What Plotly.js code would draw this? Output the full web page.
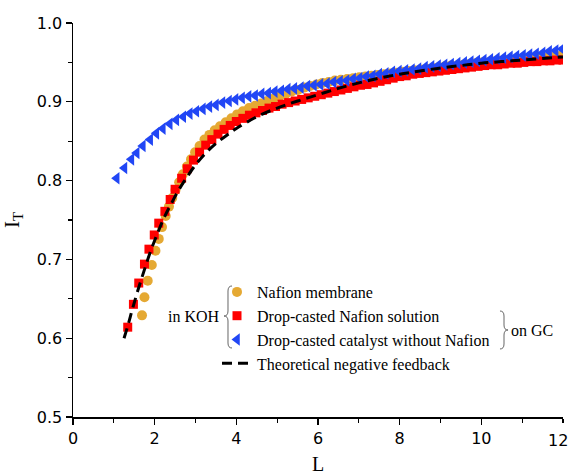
<!DOCTYPE html>
<html><head><meta charset="utf-8">
<script src="https://cdn.plot.ly/plotly-3.0.1.min.js"></script>
<style>body{margin:0;background:#fff}#c{width:571px;height:474px}</style>
</head><body><div id="c"></div>
<script>
// Nafion membrane (orange circles)
const nafionX = [1.69,1.75,1.83,1.93,2.02,2.10,2.18,2.27,2.35,2.43,2.51,2.60,2.69,2.79,2.89,2.99,3.10,3.22,3.34,3.47,3.60,3.74,3.88,4.02,4.16,4.31,4.46,4.61,4.76,4.91,5.06,5.21,5.36,5.51,5.66,5.81,5.96,6.11,6.26,6.41,6.56,6.71,6.86,7.01,7.16,7.31,7.46,7.61,7.76,7.91,8.06,8.21,8.36,8.51,8.66,8.81,8.96,9.11,9.26,9.41,9.56,9.71,9.86,10.01,10.16,10.31,10.46,10.61,10.76,10.91,11.06,11.21,11.36,11.51,11.66,11.81,11.96];
const nafionY = [0.629,0.652,0.673,0.693,0.711,0.726,0.741,0.755,0.767,0.778,0.788,0.798,0.808,0.818,0.827,0.836,0.844,0.852,0.858,0.864,0.869,0.874,0.879,0.884,0.888,0.892,0.895,0.898,0.901,0.904,0.907,0.910,0.913,0.915,0.918,0.920,0.922,0.924,0.925,0.927,0.928,0.929,0.930,0.931,0.932,0.933,0.934,0.935,0.936,0.937,0.938,0.939,0.940,0.941,0.942,0.943,0.944,0.945,0.946,0.946,0.947,0.948,0.949,0.950,0.950,0.951,0.952,0.953,0.953,0.954,0.955,0.955,0.956,0.957,0.957,0.958,0.959];
// Drop-casted Nafion solution (red squares)
const solX = [1.34,1.48,1.61,1.75,1.86,1.99,2.10,2.25,2.38,2.50,2.66,2.80,2.95,3.10,3.25,3.40,3.55,3.70,3.85,4.00,4.16,4.32,4.48,4.64,4.80,4.96,5.12,5.28,5.44,5.60,5.76,5.92,6.08,6.24,6.40,6.56,6.72,6.88,7.04,7.20,7.36,7.52,7.68,7.84,8.00,8.16,8.32,8.48,8.64,8.80,8.96,9.12,9.28,9.44,9.60,9.76,9.92,10.08,10.24,10.40,10.56,10.72,10.88,11.04,11.20,11.36,11.52,11.68,11.84,12.00];
const solY = [0.614,0.643,0.670,0.694,0.713,0.731,0.746,0.761,0.776,0.789,0.803,0.815,0.826,0.836,0.845,0.852,0.859,0.865,0.870,0.875,0.879,0.883,0.886,0.889,0.892,0.894,0.897,0.899,0.901,0.903,0.905,0.907,0.909,0.911,0.913,0.915,0.917,0.919,0.921,0.922,0.924,0.926,0.928,0.930,0.932,0.933,0.935,0.936,0.937,0.938,0.939,0.940,0.941,0.942,0.943,0.944,0.945,0.946,0.947,0.947,0.948,0.949,0.949,0.950,0.951,0.951,0.952,0.952,0.953,0.953];
// Drop-casted catalyst without Nafion (blue triangles)
const catX = [1.07,1.26,1.43,1.56,1.71,1.89,2.04,2.20,2.37,2.53,2.70,2.86,3.02,3.18,3.34,3.50,3.66,3.82,3.98,4.14,4.30,4.46,4.62,4.78,4.94,5.10,5.26,5.42,5.58,5.74,5.90,6.06,6.22,6.38,6.54,6.70,6.86,7.02,7.18,7.34,7.50,7.66,7.82,7.98,8.14,8.30,8.46,8.62,8.78,8.94,9.10,9.26,9.42,9.58,9.74,9.90,10.06,10.22,10.38,10.54,10.70,10.86,11.02,11.18,11.34,11.50,11.66,11.82,11.98];
const catY = [0.803,0.816,0.827,0.835,0.844,0.852,0.860,0.866,0.872,0.877,0.881,0.885,0.888,0.891,0.894,0.896,0.899,0.901,0.903,0.905,0.907,0.908,0.910,0.911,0.913,0.914,0.916,0.917,0.918,0.920,0.921,0.922,0.923,0.925,0.926,0.927,0.929,0.930,0.932,0.933,0.935,0.936,0.938,0.939,0.940,0.941,0.942,0.944,0.945,0.946,0.947,0.948,0.949,0.950,0.951,0.952,0.953,0.954,0.955,0.956,0.957,0.958,0.959,0.960,0.961,0.962,0.964,0.965,0.967];
// Theoretical negative feedback (dashed)
const theoX = [1.25,1.35,1.45,1.55,1.65,1.75,1.87,2.00,2.10,2.25,2.40,2.60,2.80,3.00,3.25,3.50,3.75,4.00,4.50,5.00,5.50,6.00,6.50,7.00,7.50,8.00,8.50,9.00,9.50,10.00,10.50,11.00,11.50,12.00];
const theoY = [0.600,0.617,0.636,0.654,0.671,0.687,0.706,0.724,0.737,0.755,0.770,0.789,0.805,0.820,0.835,0.847,0.857,0.866,0.881,0.892,0.901,0.909,0.917,0.924,0.930,0.935,0.939,0.943,0.946,0.949,0.951,0.953,0.955,0.957];

const names = ['Nafion membrane','Drop-casted Nafion solution','Drop-casted catalyst without Nafion','Theoretical negative feedback'];
const xTickVals = [0,2,4,6,8,10];
const xLastTick = 12;
const xTitle = 'L';

const M = {l:73, r:8, t:23, b:57};
const PW = 571 - M.l - M.r, PH = 474 - M.t - M.b;
const px = v => (v - M.l) / PW;
const py = v => (474 - M.b - v) / PH;
function pathPx(cmds){
  return cmds.map(c => typeof c === 'string' ? c : px(c[0]).toFixed(4)+','+py(c[1]).toFixed(4)).join(' ');
}
const leftBrace = pathPx(['M',[232,286],'Q',[228,286],[228,291],'L',[228,311],'Q',[228,316],[224,316],'Q',[228,316],[228,321],'L',[228,343],'Q',[228,348],[232,348]]);
const rightBrace = pathPx(['M',[500,311],'Q',[504,311],[504,316],'L',[504,325],'Q',[504,330],[508,330],'Q',[504,330],[504,335],'L',[504,344],'Q',[504,349],[500,349]]);

const serif = 'Liberation Serif, Times New Roman, serif';
const sans = 'DejaVu Sans, Arial, sans-serif';

const data = [
  {x:nafionX, y:nafionY, name:names[0], mode:'markers', type:'scatter', marker:{symbol:'circle', size:10, color:'#E5A933'}},
  {x:solX, y:solY, name:names[1], mode:'markers', type:'scatter', marker:{symbol:'square', size:9, color:'#FF0000'}},
  {x:catX, y:catY, name:names[2], mode:'markers', type:'scatter', marker:{symbol:'triangle-left', size:11, color:'#2146F5'}},
  {x:theoX, y:theoY, name:names[3], mode:'lines', type:'scatter', line:{color:'#000', width:3, dash:'10px,6px', shape:'spline'}}
];

const layout = {
  width:571, height:474, margin:M, paper_bgcolor:'#fff', plot_bgcolor:'#fff',
  showlegend:true,
  legend:{x:px(217), y:py(275), xanchor:'left', yanchor:'top', bgcolor:'rgba(0,0,0,0)', font:{family:serif, size:16, color:'#000'}, tracegroupgap:0},
  xaxis:{range:[0,12], tickmode:'array', tickvals:xTickVals, ticks:'outside', ticklen:6, tickwidth:1.3, tickcolor:'#000',
    showline:true, linecolor:'#000', linewidth:1.5, showgrid:false, zeroline:false,
    tickfont:{family:sans, size:16, color:'#000'},
    minor:{ticks:'outside', ticklen:4, dtick:1, tickcolor:'#000', tickwidth:1.3, showgrid:false}},
  yaxis:{range:[0.5,1.0], dtick:0.1, tick0:0.5, ticks:'outside', ticklen:6, tickwidth:1.3, tickcolor:'#000',
    showline:true, linecolor:'#000', linewidth:1.5, showgrid:false, zeroline:false, tickformat:'.1f',
    tickfont:{family:sans, size:16, color:'#000'},
    minor:{ticks:'outside', ticklen:4, dtick:0.05, tickcolor:'#000', tickwidth:1.3, showgrid:false},
    title:{text:'I<sub>T</sub>', font:{family:serif, size:21, color:'#000'}, standoff:12}},
  shapes:[
    {type:'line', xref:'x', yref:'paper', x0:xLastTick, x1:xLastTick, y0:0, y1:-6/PH, line:{color:'#000', width:1.3}},
    {type:'path', xref:'paper', yref:'paper', path:leftBrace, line:{color:'#666', width:1}},
    {type:'path', xref:'paper', yref:'paper', path:rightBrace, line:{color:'#666', width:1}}
  ],
  annotations:[
    {xref:'paper', yref:'paper', x:1 + M.r/PW, y:py(429), xanchor:'right', yanchor:'top', text:String(xLastTick), showarrow:false, font:{family:sans, size:16, color:'#000'}, xshift:-1},
    {xref:'paper', yref:'paper', x:0.5, y:py(451), xanchor:'center', yanchor:'top', text:xTitle, showarrow:false, font:{family:serif, size:20, color:'#000'}},
    {xref:'paper', yref:'paper', x:px(222), y:py(316), xanchor:'right', yanchor:'middle', text:'in KOH', showarrow:false, font:{family:serif, size:16, color:'#000'}},
    {xref:'paper', yref:'paper', x:px(509), y:py(330), xanchor:'left', yanchor:'middle', text:'on GC', showarrow:false, font:{family:serif, size:16, color:'#000'}}
  ]
};
Plotly.newPlot('c', data, layout, {displayModeBar:false, staticPlot:true});
</script></body></html>
